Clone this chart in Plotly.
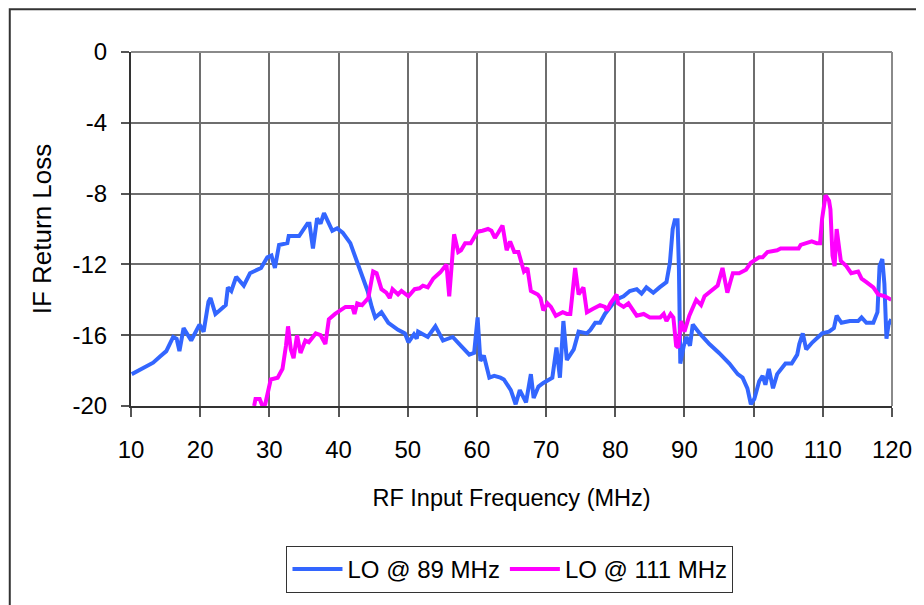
import plotly.graph_objects as go

# ---- data ----
lo89_freq = [10.1, 13.2, 14.2, 15.1, 16.1, 16.6, 17.0, 17.6, 18.7, 19.9, 20.5, 21.2, 21.5, 22.2, 22.8,
             23.7, 24.0, 24.5, 25.2, 26.3, 27.2, 28.8, 29.7, 30.3, 30.8, 31.4, 32.6, 32.8, 34.3, 35.5,
             35.8, 36.3, 36.9, 37.4, 37.9, 39.1, 39.8, 40.6, 41.7, 42.4, 42.9, 44.2, 44.8, 45.3, 46.2,
             47.2, 48.6, 49.6, 50.1, 50.9, 51.3, 51.5, 52.9, 54.0, 55.1, 56.5, 57.7, 58.9, 59.6, 60.1,
             60.5, 61.0, 61.8, 62.5, 63.4, 63.9, 64.9, 65.6, 66.2, 67.1, 67.8, 68.2, 68.9, 69.6, 70.9,
             71.5, 72.0, 72.5, 73.0, 74.0, 74.7, 75.9, 76.4, 77.1, 77.8, 78.5, 79.5, 80.0, 81.2, 82.1,
             83.1, 83.8, 84.5, 85.5, 86.4, 87.4, 87.9, 88.3, 88.6, 89.0, 89.2, 89.4, 89.9, 90.3, 90.8,
             91.2, 92.2, 93.6, 95.0, 96.5, 97.7, 98.4, 99.1, 99.6, 100.1, 100.8, 101.3, 101.7, 102.2,
             102.8, 103.4, 104.6, 105.5, 106.3, 106.6, 107.1, 107.6, 108.5, 109.9, 110.9, 111.6, 112.0,
             112.7, 113.9, 115.1, 115.6, 116.3, 117.3, 117.9, 118.2, 118.6, 118.9, 119.2, 119.5, 119.9]
lo89_rl = [-18.2, -17.55, -17.2, -16.9, -16.1, -16.2, -16.9, -15.6, -16.3, -15.4, -15.8, -14.1, -13.9, -14.8, -14.6,
           -14.3, -13.3, -13.5, -12.7, -13.2, -12.5, -12.2, -11.6, -11.5, -12.2, -10.9, -10.8, -10.4, -10.4, -9.7,
           -9.7, -11.1, -9.4, -9.7, -9.1, -10.1, -9.96, -10.2, -10.8, -11.6, -12.0, -13.5, -14.4, -15.0, -14.7,
           -15.3, -15.7, -15.9, -16.4, -15.95, -16.2, -15.8, -16.1, -15.5, -16.3, -16.1, -16.6, -17.1, -17.0, -15.0,
           -17.45, -17.15, -18.4, -18.3, -18.4, -18.5, -19.1, -19.9, -19.1, -19.8, -18.2, -19.55, -18.9, -18.7, -18.4,
           -16.7, -18.4, -15.2, -17.4, -16.8, -15.8, -15.9, -15.7, -15.3, -15.3, -14.8, -14.3, -14.0, -13.8, -13.5,
           -13.4, -13.65, -13.3, -13.6, -13.3, -13.0, -11.9, -10.0, -9.5, -9.5, -12.2, -17.6, -16.6, -16.1, -16.6,
           -15.4, -15.9, -16.5, -17.0, -17.6, -18.2, -18.4, -19.0, -19.9, -19.6, -18.6, -18.3, -18.8, -17.9,
           -19.0, -18.2, -17.6, -17.6, -17.1, -16.5, -15.9, -16.8, -16.4, -15.9, -15.8, -15.6, -14.9,
           -15.3, -15.2, -15.2, -15.0, -15.3, -15.3, -14.7, -12.1, -11.7, -13.1, -16.2, -15.4, -15.1]

lo111_freq = [27.8, 28.0, 28.6, 29.0, 29.4, 30.2, 31.2, 31.9, 32.4, 32.7, 33.1, 33.5, 34.0, 34.5, 35.2,
              35.7, 36.7, 37.4, 38.1, 38.6, 39.5, 41.0, 42.0, 42.3, 42.7, 43.4, 44.3, 45.0, 45.5, 46.2,
              46.9, 47.4, 47.8, 48.6, 49.1, 50.1, 51.0, 51.7, 52.2, 52.9, 53.7, 54.7, 55.6, 56.0, 56.7,
              57.3, 57.7, 58.3, 59.1, 60.1, 60.8, 61.6, 62.1, 62.6, 63.1, 63.7, 64.3, 64.8, 65.4, 66.0,
              66.8, 67.3, 67.8, 68.8, 69.2, 69.6, 70.2, 70.7, 71.4, 72.4, 73.0, 73.5, 74.2, 74.7, 75.4,
              75.9, 76.8, 77.8, 78.5, 78.8, 79.3, 80.2, 80.4, 81.2, 81.9, 82.6, 83.1, 84.1, 85.0, 86.5,
              87.0, 87.4, 88.0, 88.4, 88.8, 89.1, 89.5, 90.0, 90.7, 91.7, 92.4, 92.9, 93.6, 94.3, 94.8,
              95.5, 96.2, 96.7, 97.0, 97.9, 98.9, 99.6, 100.3, 100.8, 101.3, 102.0, 103.4, 103.9, 104.8,
              106.5, 106.8, 107.6, 108.4, 109.1, 109.6, 109.9, 110.4, 110.9, 111.1, 111.4, 111.7, 112.0,
              112.6, 113.4, 114.1, 115.1, 115.6, 116.3, 117.3, 118.0, 119.0, 119.9]
lo111_rl = [-20.0, -19.6, -19.6, -20.0, -19.9, -18.5, -18.4, -17.9, -16.6, -15.5, -16.8, -17.3, -16.0, -17.0, -16.3,
            -16.4, -15.9, -16.0, -16.5, -15.1, -14.8, -14.4, -14.4, -14.8, -14.2, -14.3, -13.9, -12.4, -12.5, -13.4,
            -13.6, -13.9, -13.4, -13.7, -13.5, -13.8, -13.4, -13.35, -13.2, -13.3, -12.8, -12.45, -12.0, -13.8, -10.3,
            -11.3, -11.2, -10.8, -10.8, -10.15, -10.1, -10.0, -10.1, -10.5, -10.2, -9.8, -11.2, -10.7, -11.3, -11.3,
            -12.4, -12.2, -13.5, -13.7, -13.9, -14.6, -14.2, -14.4, -14.9, -14.7, -14.8, -14.8, -12.2, -13.7, -13.3,
            -14.7, -14.5, -14.3, -14.4, -14.6, -14.2, -13.7, -14.2, -14.4, -14.2, -14.6, -14.9, -14.8, -15.0, -15.0,
            -14.8, -15.2, -14.8, -15.0, -16.6, -16.7, -15.2, -15.8, -14.9, -14.0, -14.3, -13.8, -13.6, -13.4, -13.2,
            -12.2, -13.6, -12.9, -12.5, -12.5, -12.3, -11.9, -11.7, -11.6, -11.6, -11.3, -11.2, -11.1, -11.1,
            -11.1, -10.9, -10.8, -10.7, -10.8, -10.8, -9.4, -8.1, -8.4, -8.9, -11.5, -12.1, -10.0,
            -11.8, -12.1, -12.5, -12.4, -12.8, -13.0, -13.3, -13.7, -13.8, -14.0]

x_tick_vals = [10, 20, 30, 40, 50, 60, 70, 80, 90, 100, 110, 120]
y_tick_vals = [0, -4, -8, -12, -16, -20]
y_tick_text = ["0", "-4", "-8", "-12", "-16", "-20"]

FONT = "Liberation Sans, Arial, sans-serif"

fig = go.Figure()
fig.add_trace(go.Scatter(x=lo89_freq, y=lo89_rl, mode="lines", name="LO @ 89 MHz",
                         line=dict(color="#3366FF", width=4)))
fig.add_trace(go.Scatter(x=lo111_freq, y=lo111_rl, mode="lines", name="LO @ 111 MHz",
                         line=dict(color="#FF00FF", width=4)))

fig.update_layout(
    width=916, height=597,
    margin=dict(l=123, r=27, t=44, b=197),
    paper_bgcolor="white", plot_bgcolor="white",
    font=dict(family=FONT, size=23, color="black"),
    showlegend=True,
    legend=dict(orientation="h", x=0.498, xanchor="center", y=-0.395, yanchor="top",
                bordercolor="#333333", borderwidth=1, bgcolor="white",
                font=dict(family=FONT, size=24, color="black"), itemwidth=50,
                tracegroupgap=0),
    xaxis=dict(range=[10, 120], tickvals=x_tick_vals, showgrid=True, gridcolor="#6e6e6e", gridwidth=1.5,
               showline=True, linecolor="#333333", linewidth=2, ticks="outside", ticklen=9,
               tickcolor="#555555", tickwidth=1.5, zeroline=False, ticklabelstandoff=12,
               tickfont=dict(family=FONT, size=24),
               title=dict(text="RF Input Frequency (MHz)", standoff=28, font=dict(family=FONT, size=23.5))),
    yaxis=dict(range=[-20, 0], tickvals=y_tick_vals, ticktext=y_tick_text, showgrid=True,
               gridcolor="#6e6e6e", gridwidth=1.5,
               showline=True, linecolor="#333333", linewidth=2, ticks="outside", ticklen=8,
               tickcolor="#555555", tickwidth=1.5, zeroline=False, ticklabelstandoff=9,
               tickfont=dict(family=FONT, size=24),
               title=dict(text="IF Return Loss", standoff=13, font=dict(family=FONT, size=26))),
    shapes=[
        dict(type="rect", xref="paper", yref="paper", x0=-0.1593, x1=1.1, y0=-0.7, y1=1.1208,
             line=dict(color="#333333", width=2), fillcolor="rgba(0,0,0,0)", layer="below"),
        dict(type="line", xref="paper", yref="paper", x0=0, x1=1, y0=1, y1=1,
             line=dict(color="#8a8a8a", width=2)),
        dict(type="line", xref="paper", yref="paper", x0=1, x1=1, y0=0, y1=1,
             line=dict(color="#8a8a8a", width=2)),
    ],
)

fig.write_html("out.html")
